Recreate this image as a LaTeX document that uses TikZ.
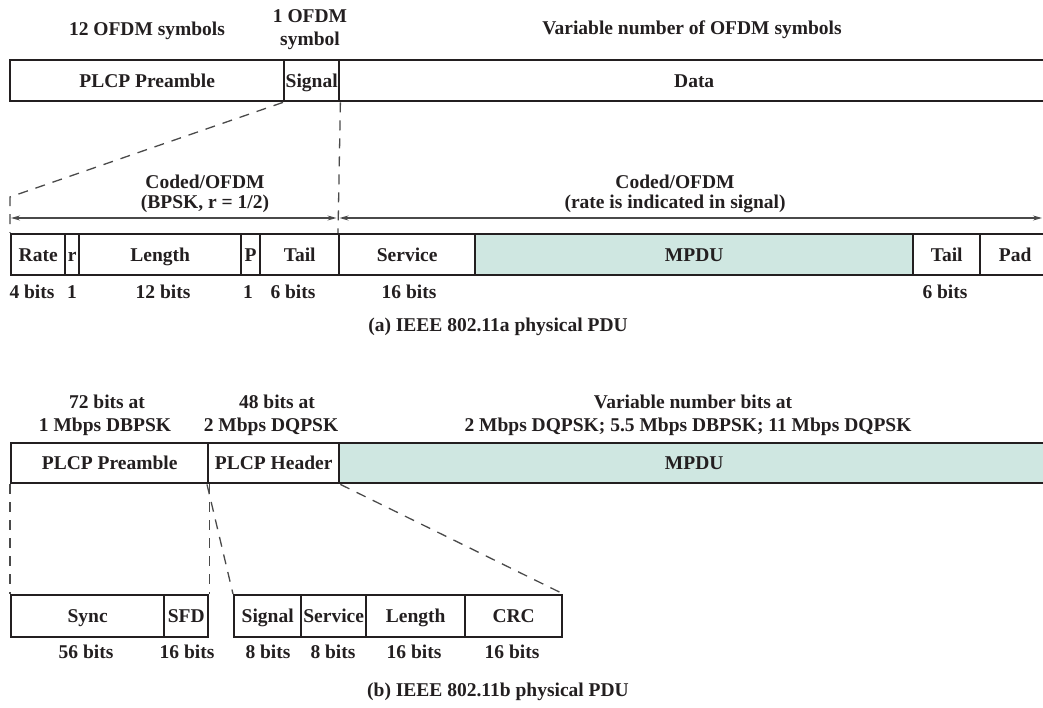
\documentclass[tikz,border=0pt]{standalone}
\usepackage{fontspec}
\setmainfont{Liberation Serif}
\usetikzlibrary{arrows.meta}
\definecolor{ink}{HTML}{231F20}
\definecolor{mpdufill}{RGB}{207,231,225}
\definecolor{guide}{HTML}{4A4A4A}

\begin{document}
\begin{tikzpicture}[x=1pt,y=-1pt,
  every node/.style={font=\fontsize{19.5}{21}\selectfont\bfseries, text=ink},
  field/.style={draw=ink, line width=2.4pt, minimum height=41pt, inner sep=0pt,
                anchor=north west, text height=15pt, text depth=2.1pt},
  shaded/.style={fill=mpdufill},
  lbl/.style={anchor=base, inner sep=0pt},
  guideline/.style={draw=guide, line width=1.3pt, dash pattern=on 10pt off 8pt},
  span/.style={draw=guide, line width=1.1pt,
               {Stealth[length=9pt,width=5pt]}-{Stealth[length=9pt,width=5pt]}}
]
\useasboundingbox (0,0) rectangle (1043,708);
\clip (0,0) rectangle (1043,708);

% ---------------- (a) IEEE 802.11a ----------------
\node[lbl] (tA1) at (147,35.5) {12 OFDM symbols};
\node[lbl] (tA2) at (310,22.5) {1 OFDM};
\node[lbl] (tA3) at (310,45.5) {symbol};
\node[lbl] (tA4) at (692,34.5) {Variable number of OFDM symbols};

\node[field, minimum width=274pt] (apre) at (9,59)   {PLCP Preamble};
\node[field, minimum width=55pt]  (asig) at (283,59) {Signal};
\node[field, minimum width=710pt] (adat) at (338,59) {Data};

\node[field, minimum width=54pt]  (rate)  at (10,233)  {Rate};
\node[field, minimum width=14pt]  (rr)    at (64,233)  {r};
\node[field, minimum width=162pt] (alen)  at (78,233)  {Length};
\node[field, minimum width=19pt]  (par)   at (240,233) {P};
\node[field, minimum width=79pt]  (atail) at (259,233) {Tail};
\node[field, minimum width=136pt] (aserv) at (338,233) {Service};
\node[field, shaded, minimum width=438pt] (ampdu) at (474,233) {MPDU};
\node[field, minimum width=67pt]  (btail) at (912,233) {Tail};
\node[field, minimum width=70pt]  (apad)  at (979,233) {Pad};

% expansion of the Signal symbol
\coordinate (abend) at (10,197);
\draw[guideline] (asig.south west) -- (abend) -- (rate.north west);
\draw[guideline] (asig.south east) -- (aserv.north west);

% coding spans
\coordinate (s1) at (11,218);
\coordinate (s2) at (336.5,218);
\coordinate (s3) at (339.5,218);
\coordinate (s4) at (1042,218);
\draw[span] (s1) -- (s2);
\draw[span] (s3) -- (s4);
\node[lbl] (cL1) at (205,188.5) {Coded/OFDM};
\node[lbl] (cL2) at (205,208.5) {(BPSK, r = 1/2)};
\node[lbl] (cR1) at (675,188.5) {Coded/OFDM};
\node[lbl] (cR2) at (675,208.5) {(rate is indicated in signal)};

% field sizes
\node[lbl] (bA1) at (32,298.5)  {4 bits};
\node[lbl] (bA2) at (72,298.5)  {1};
\node[lbl] (bA3) at (163,298.5) {12 bits};
\node[lbl] (bA4) at (248,298.5) {1};
\node[lbl] (bA5) at (293,298.5) {6 bits};
\node[lbl] (bA6) at (409,298.5) {16 bits};
\node[lbl] (bA7) at (945,298.5) {6 bits};

\node[lbl] (capA) at (498,331.5) {(a) IEEE 802.11a physical PDU};

% ---------------- (b) IEEE 802.11b ----------------
\node[lbl] (tB1) at (107,408.5) {72 bits at};
\node[lbl] (tB2) at (105,431)   {1 Mbps DBPSK};
\node[lbl] (tB3) at (277,408.5) {48 bits at};
\node[lbl] (tB4) at (271,431)   {2 Mbps DQPSK};
\node[lbl] (tB5) at (693,408.5) {Variable number bits at};
\node[lbl] (tB6) at (688,431)   {2 Mbps DQPSK; 5.5 Mbps DBPSK; 11 Mbps DQPSK};

\node[field, minimum width=197pt, minimum height=40pt] (bpre) at (10,442)  {PLCP Preamble};
\node[field, minimum width=131pt, minimum height=40pt] (bhdr) at (207,442) {PLCP Header};
\node[field, shaded, minimum width=710pt, minimum height=40pt] (bmpdu) at (338,442) {MPDU};

\node[field, minimum width=153pt, minimum height=42pt] (sync) at (10,594)  {Sync};
\node[field, minimum width=44pt,  minimum height=42pt] (sfd)  at (163,594) {SFD};
\node[field, minimum width=67pt,  minimum height=42pt] (bsig) at (233,594) {Signal};
\node[field, minimum width=65pt,  minimum height=42pt] (bsrv) at (300,594) {Service};
\node[field, minimum width=99pt,  minimum height=42pt] (blen) at (365,594) {Length};
\node[field, minimum width=97pt,  minimum height=42pt] (bcrc) at (464,594) {CRC};

% expansion of preamble and header
\draw[guideline] (bpre.south west) -- (sync.north west);
\draw[guideline] (bpre.south east) -- (sfd.north east);
\draw[guideline] (bhdr.south west) -- (bsig.north west);
\draw[guideline] (bhdr.south east) -- (bcrc.north east);

\node[lbl] (bB1) at (86,658.5)  {56 bits};
\node[lbl] (bB2) at (187,658.5) {16 bits};
\node[lbl] (bB3) at (268,658.5) {8 bits};
\node[lbl] (bB4) at (333,658.5) {8 bits};
\node[lbl] (bB5) at (414,658.5) {16 bits};
\node[lbl] (bB6) at (512,658.5) {16 bits};

\node[lbl] (capB) at (498,696.5) {(b) IEEE 802.11b physical PDU};
\end{tikzpicture}
\end{document}
